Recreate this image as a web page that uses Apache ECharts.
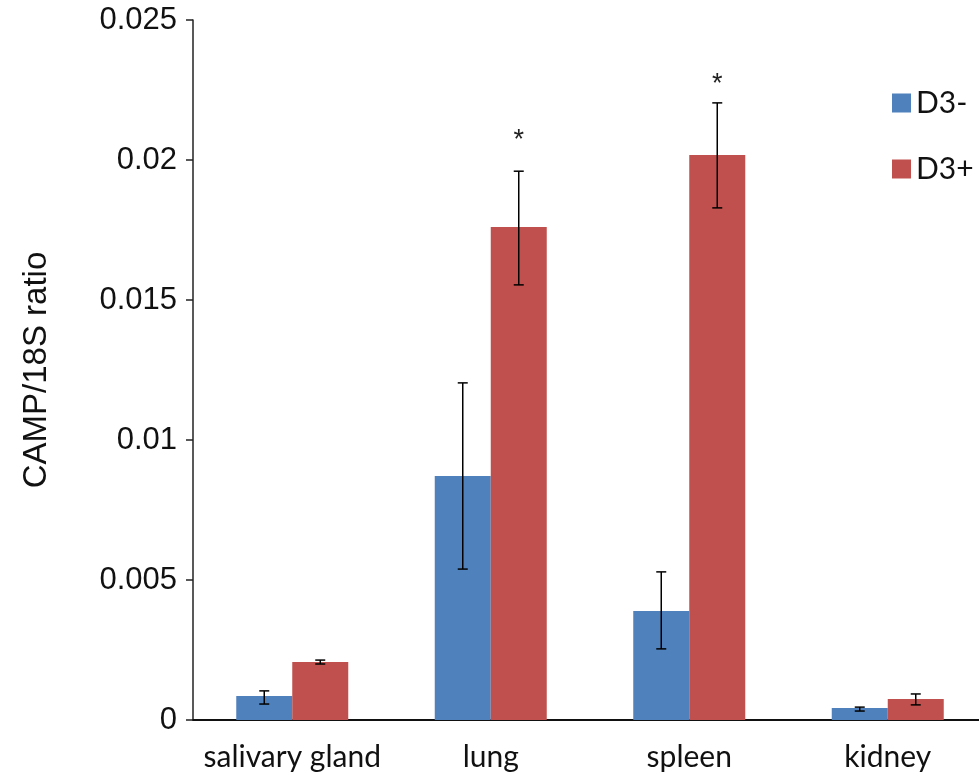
<!DOCTYPE html>
<html>
<head>
<meta charset="utf-8">
<script src="https://cdn.jsdelivr.net/npm/echarts@6/dist/echarts.min.js"></script>
<style>html,body{margin:0;padding:0;background:#fff;}#c{width:979px;height:784px;}</style>
</head>
<body>
<div id="c"></div>
<script>
var categories = ['salivary gland', 'lung', 'spleen', 'kidney'];
var seriesNames = ['D3-', 'D3+'];
var d3minus = [0.00086, 0.00871, 0.00389, 0.00043];
var d3minusLow = [0.00057, 0.00539, 0.00254, 0.00032];
var d3minusHigh = [0.00104, 0.01204, 0.00529, 0.00046];
var d3plus = [0.00207, 0.01761, 0.02018, 0.00075];
var d3plusLow = [0.00200, 0.01554, 0.01829, 0.00054];
var d3plusHigh = [0.00214, 0.01960, 0.02204, 0.00093];
var stars = [[1, 0.0207], [2, 0.02268]];
var yTicks = [0, 0.005, 0.01, 0.015, 0.02, 0.025];

var BLUE = '#4F81BD', RED = '#C0504D';
var BAR_W = 56;

function errData(low, high, sign) {
  return low.map(function (l, i) { return [i, l, high[i], sign]; });
}

function renderErr(params, api) {
  var i = api.value(0);
  var sign = api.value(3);
  var lo = api.coord([i, api.value(1)]);
  var hi = api.coord([i, api.value(2)]);
  var x = lo[0] + sign * BAR_W / 2;
  var cap = 5;
  var st = { stroke: '#000', lineWidth: 1.5 };
  return {
    type: 'group',
    children: [
      { type: 'line', shape: { x1: x, y1: lo[1], x2: x, y2: hi[1] }, style: st },
      { type: 'line', shape: { x1: x - cap, y1: lo[1], x2: x + cap, y2: lo[1] }, style: st },
      { type: 'line', shape: { x1: x - cap, y1: hi[1], x2: x + cap, y2: hi[1] }, style: st }
    ]
  };
}

function renderStar(params, api) {
  var p = api.coord([api.value(0), api.value(1)]);
  return {
    type: 'text',
    x: p[0] + BAR_W / 2,
    y: p[1],
    style: { text: '*', fill: '#222', font: '27px "Liberation Sans", Arial, sans-serif', align: 'center', verticalAlign: 'middle' }
  };
}

var chart = echarts.init(document.getElementById('c'));
chart.setOption({
  animation: false,
  backgroundColor: '#fff',
  grid: { left: 193, right: -8, top: 20, bottom: 64, outerBoundsMode: 'none', containLabel: false },
  legend: {
    orient: 'vertical',
    left: 887,
    top: 83,
    itemWidth: 19,
    itemHeight: 19,
    itemGap: 36,
    icon: 'rect',
    data: seriesNames,
    textStyle: { fontFamily: 'Lato', fontSize: 30, color: '#111', padding: [0, 0, 0, 0] }
  },
  xAxis: {
    type: 'category',
    data: categories,
    axisLine: { lineStyle: { color: '#111', width: 2 } },
    axisTick: { show: false },
    axisLabel: { fontFamily: 'Lato', fontSize: 30, color: '#111', margin: 22, interval: 0 }
  },
  yAxis: {
    type: 'value',
    min: 0,
    max: 0.025,
    interval: 0.005,
    name: 'CAMP/18S ratio',
    nameLocation: 'middle',
    nameGap: 140,
    nameTextStyle: { fontFamily: 'Liberation Sans', fontSize: 33, color: '#111' },
    axisLine: { show: true, lineStyle: { color: '#222', width: 1.5 } },
    axisTick: { show: true, length: 7, lineStyle: { color: '#222', width: 1.5 } },
    splitLine: { show: false },
    axisLabel: {
      fontFamily: 'Liberation Sans', fontSize: 31, color: '#111', margin: 16,
      formatter: function (v) { return yTicks.indexOf(v) >= 0 ? String(v) : ''; }
    }
  },
  series: [
    { name: seriesNames[0], type: 'bar', data: d3minus, barWidth: BAR_W, barGap: '0%', itemStyle: { color: BLUE } },
    { name: seriesNames[1], type: 'bar', data: d3plus, barWidth: BAR_W, barGap: '0%', itemStyle: { color: RED } },
    { type: 'custom', renderItem: renderErr, data: errData(d3minusLow, d3minusHigh, -1), z: 5, encode: { x: 0, y: [1, 2] } },
    { type: 'custom', renderItem: renderErr, data: errData(d3plusLow, d3plusHigh, 1), z: 5, encode: { x: 0, y: [1, 2] } },
    { type: 'custom', renderItem: renderStar, data: stars, z: 5, encode: { x: 0, y: 1 } }
  ]
});
</script>
</body>
</html>
